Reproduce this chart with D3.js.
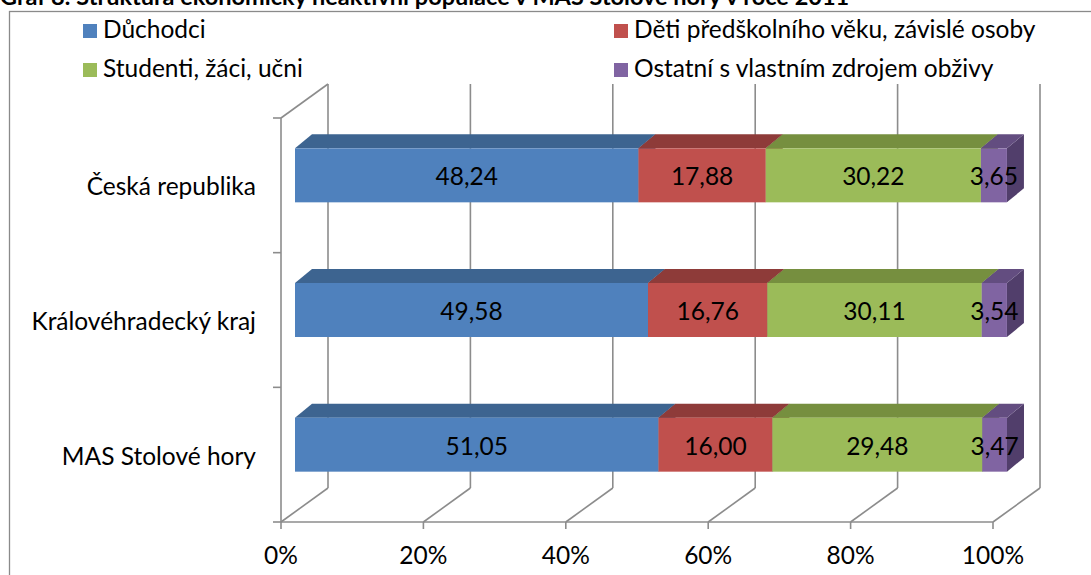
<!DOCTYPE html>
<html>
<head>
<meta charset="utf-8">
<script src="https://cdn.jsdelivr.net/npm/d3@7"></script>
<style>
  html, body { margin: 0; padding: 0; background: #fff; }
  svg { display: block; font-family: Lato, "Open Sans", sans-serif; }
</style>
</head>
<body>
<svg id="chart" width="1091" height="575"></svg>
<script>
const categories = ["Česká republika", "Královéhradecký kraj", "MAS Stolové hory"];
const seriesNames = ["Důchodci", "Děti předškolního věku, závislé osoby", "Studenti, žáci, učni", "Ostatní s vlastním zdrojem obživy"];
const duchodci = [48.24, 49.58, 51.05];
const deti = [17.88, 16.76, 16.00];
const studenti = [30.22, 30.11, 29.48];
const ostatni = [3.65, 3.54, 3.47];
const xTicks = [0, 20, 40, 60, 80, 100];
const title = "Graf 8: Struktura ekonomicky neaktivní populace v MAS Stolové hory v roce 2011";

const front = ["#4F81BD", "#C0504D", "#9BBB59", "#8064A2"];
const top_ = ["#3D6490", "#8E3B39", "#768F3F", "#634D80"];
const side = ["#304F73", "#702F2D", "#5D7132", "#513E6B"];

const FS = 24.5;
const svg = d3.select("#chart");
const fmt = d3.formatLocale({ decimal: ",", thousands: " ", grouping: [3], currency: ["", ""] }).format(".2f");

const x = d3.scaleLinear().domain([0, 100]).range([281, 993]);
const y = d3.scaleBand().domain(categories).range([118, 522]);

// hloubka grafu (zadní stěna)
const DX = 47, DY = -34;
// přední a zadní stěna sloupce
const bf = { dx: 14, dy: -10 }, bb = { dx: 31, dy: -24 };
const barH = 54;

// rámeček + titulek
svg.append("rect").attr("x", 9.5).attr("y", 11.5).attr("width", 1100).attr("height", 600)
  .attr("fill", "none").attr("stroke", "#8a8a8a").attr("stroke-width", 1.3);
svg.append("text").attr("x", 0).attr("y", 5).attr("font-weight", "bold").attr("font-size", 23.5)
  .attr("fill", "#000").text(title);

const grid = svg.append("g").attr("stroke", "#8c8c8c").attr("stroke-width", 1.6).attr("fill", "none");
const y0 = y.range()[0], y1 = y.range()[1];

// zadní svislé čáry + diagonály podlahy
xTicks.forEach(t => {
  const xf = x(t);
  grid.append("line").attr("x1", xf + DX).attr("x2", xf + DX).attr("y1", y0 + DY).attr("y2", y1 + DY);
  grid.append("line").attr("x1", xf).attr("x2", xf + DX).attr("y1", y1).attr("y2", y1 + DY);
  grid.append("line").attr("x1", xf).attr("x2", xf).attr("y1", y1).attr("y2", y1 + 7);
});
// levá stěna
grid.append("line").attr("x1", x(0)).attr("x2", x(0)).attr("y1", y0).attr("y2", y1);
grid.append("line").attr("x1", x(0)).attr("x2", x(0) + DX).attr("y1", y0).attr("y2", y0 + DY);
grid.append("line").attr("x1", x(0)).attr("x2", x(100)).attr("y1", y1).attr("y2", y1);
[y0, ...categories.map(c => y(c) + y.bandwidth())].forEach(v => {
  grid.append("line").attr("x1", x(0) - 8).attr("x2", x(0)).attr("y1", v).attr("y2", v);
});

// osa x popisky
svg.append("g").selectAll("text").data(xTicks).join("text")
  .attr("x", d => x(d)).attr("y", 564).attr("text-anchor", "middle")
  .attr("font-size", FS).text(d => d + "%");

// kategorie
svg.append("g").selectAll("text").data(categories).join("text")
  .attr("x", 256).attr("y", d => y(d) + y.bandwidth() / 2 + 10).attr("text-anchor", "end")
  .attr("font-size", FS).text(d => d);

// sloupce
const series = [duchodci, deti, studenti, ostatni];
const bars = svg.append("g");
const labels = [];
categories.forEach((c, ci) => {
  const cy = y(c) + y.bandwidth() / 2;
  const yt = cy - barH / 2, yb = cy + barH / 2;
  let cum = 0;
  series.forEach((s, si) => {
    const v = s[ci];
    const a = x(cum), b = x(cum + v);
    cum += v;
    const g = bars.append("g");
    const poly = pts => pts.map(p => p.join(",")).join(" ");
    // boční stěna
    g.append("polygon").attr("fill", side[si])
      .attr("points", poly([[b + bf.dx, yt + bf.dy], [b + bb.dx, yt + bb.dy], [b + bb.dx, yb + bb.dy], [b + bf.dx, yb + bf.dy]]));
    // horní stěna
    g.append("polygon").attr("fill", top_[si])
      .attr("points", poly([[a + bf.dx, yt + bf.dy], [a + bb.dx, yt + bb.dy], [b + bb.dx, yt + bb.dy], [b + bf.dx, yt + bf.dy]]));
    // přední stěna
    g.append("rect").attr("fill", front[si])
      .attr("x", a + bf.dx).attr("y", yt + bf.dy).attr("width", b - a).attr("height", barH);
    labels.push({ v, cx: (a + b) / 2 + bf.dx, cy: cy + bf.dy });
  });
});
// popisky hodnot (nad sloupci)
svg.append("g").selectAll("text").data(labels).join("text")
  .attr("x", d => d.cx).attr("y", d => d.cy + 10).attr("text-anchor", "middle")
  .attr("font-size", FS).attr("fill", "#000").text(d => fmt(d.v));

// legenda
const leg = svg.append("g");
seriesNames.forEach((n, i) => {
  const lx = i % 2 === 0 ? 83 : 614;
  const ly = i < 2 ? 24 : 63;
  const ci = [0, 1, 2, 3][i];
  leg.append("rect").attr("x", lx).attr("y", ly).attr("width", 14).attr("height", 14).attr("fill", front[ci]);
  leg.append("text").attr("x", lx + 20).attr("y", ly + 14).attr("font-size", FS).text(n);
});
</script>
</body>
</html>
